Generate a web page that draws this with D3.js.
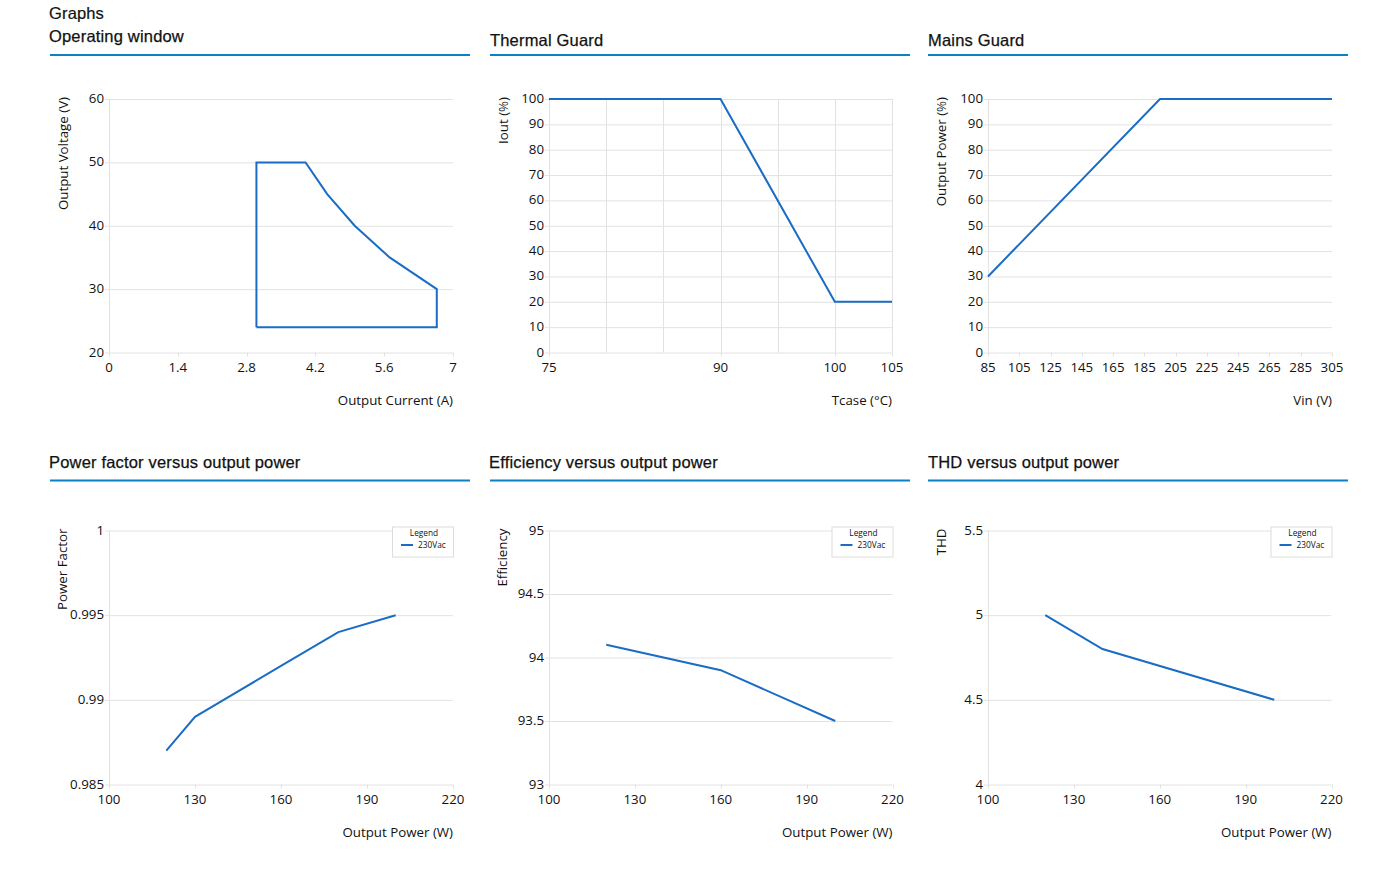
<!DOCTYPE html>
<html><head><meta charset="utf-8">
<script src="https://cdn.jsdelivr.net/npm/d3@7"></script>
<style>
body{margin:0;background:#fff;}
svg{display:block;}
</style></head>
<body>
<svg id="c" width="1400" height="876"></svg>
<script>
// ---------- DATA ----------
const owCurrent = [3, 3, 4, 4.44, 5, 5.71, 6.67, 6.67, 3];
const owVoltage = [24, 50, 50, 45, 40, 35, 30, 24, 24];
const owXTicks = [0, 1.4, 2.8, 4.2, 5.6, 7];
const owYTicks = [20, 30, 40, 50, 60];

const tgTcase = [75, 90, 100, 105];
const tgIout = [100, 100, 20, 20];
const tgXTicks = [75, 90, 100, 105];
const tgXGrid = [75, 80, 85, 90, 95, 100, 105];
const tgYTicks = [0,10,20,30,40,50,60,70,80,90,100];

const mgVin = [85, 195, 305];
const mgPower = [30, 100, 100];
const mgXTicks = [85,105,125,145,165,185,205,225,245,265,285,305];
const mgYTicks = [0,10,20,30,40,50,60,70,80,90,100];

const pfPower = [120, 130, 140, 160, 180, 200];
const pfValue = [0.987, 0.989, 0.990, 0.992, 0.994, 0.995];
const pfYTicks = [0.985, 0.99, 0.995, 1];

const efPower = [120, 160, 200];
const efValue = [94.1, 93.9, 93.5];
const efYTicks = [93, 93.5, 94, 94.5, 95];

const thPower = [120, 140, 200];
const thValue = [5.0, 4.8, 4.5];
const thYTicks = [4, 4.5, 5, 5.5];

const powerXTicks = [100, 130, 160, 190, 220];
const legendLabel = "230Vac";

// ---------- STYLE ----------
const LINE = "#1a6cc4";
const ACCENT = "#0b80c5";
const GRID = "#e2e2e2";
const TXT = "#111";
const TICKFONT = "'Open Sans', 'Noto Sans', sans-serif";
const HEADFONT = "'Liberation Sans', Arial, sans-serif";
const TFS = 13.3;
const HFS = 16.5;

const svg = d3.select("#c");

svg.append("text").attr("x", 49).attr("y", 18.5)
  .attr("font-family", HEADFONT).attr("font-size", HFS).attr("letter-spacing", 0.15)
  .attr("fill", TXT).attr("stroke", TXT).attr("stroke-width", 0.2).text("Graphs");

const heads = [
  {t:"Operating window", x:49, y:42, ly:55},
  {t:"Thermal Guard", x:490, y:46, ly:55},
  {t:"Mains Guard", x:928, y:46, ly:55},
  {t:"Power factor versus output power", x:49, y:468, ly:480.5},
  {t:"Efficiency versus output power", x:489, y:468, ly:480.5},
  {t:"THD versus output power", x:928, y:468, ly:480.5}
];
const headX0 = [50, 490, 928, 50, 490, 928];
heads.forEach((h, i) => {
  svg.append("text").attr("x", h.x).attr("y", h.y)
    .attr("font-family", HEADFONT).attr("font-size", HFS).attr("letter-spacing", 0.18)
    .attr("fill", TXT).attr("stroke", TXT).attr("stroke-width", 0.25).text(h.t);
  svg.append("rect").attr("x", headX0[i]).attr("y", h.ly - 1).attr("width", 420).attr("height", 2).attr("fill", ACCENT);
});

function fmt(v){ return String(+v.toFixed(4)); }

function panel(o){
  const g = svg.append("g");
  const x = d3.scaleLinear().domain(o.xDom).range([o.x0, o.x1]);
  const y = d3.scaleLinear().domain(o.yDom).range([o.y1, o.y0]);
  // horizontal grid
  g.append("g").selectAll("line").data(o.yTicks).join("line")
    .attr("x1", o.x0 - 4).attr("x2", o.x1)
    .attr("y1", d => y(d) + 0.5).attr("y2", d => y(d) + 0.5)
    .attr("stroke", GRID).attr("stroke-width", 1);
  // vertical grid
  if (o.xGrid) {
    g.append("g").selectAll("line").data(o.xGrid).join("line")
      .attr("x1", d => Math.round(x(d)) + 0.5).attr("x2", d => Math.round(x(d)) + 0.5)
      .attr("y1", o.y0).attr("y2", o.y1)
      .attr("stroke", GRID).attr("stroke-width", 1);
  }
  // y axis line
  g.append("line").attr("x1", o.x0 + 0.5).attr("x2", o.x0 + 0.5).attr("y1", o.y0).attr("y2", o.y1 + 4)
    .attr("stroke", GRID);
  // x tick marks
  g.append("g").selectAll("line").data(o.xTicks).join("line")
    .attr("x1", d => Math.round(x(d)) + 0.5).attr("x2", d => Math.round(x(d)) + 0.5)
    .attr("y1", o.y1).attr("y2", o.y1 + 4).attr("stroke", GRID);
  // x tick labels
  g.append("g").selectAll("text").data(o.xTicks).join("text")
    .attr("x", d => x(d)).attr("y", o.y1 + 19)
    .attr("text-anchor", "middle").attr("font-family", TICKFONT).attr("font-size", TFS).attr("fill", TXT)
    .text(fmt);
  // y tick labels
  g.append("g").selectAll("text").data(o.yTicks).join("text")
    .attr("x", o.x0 - 5).attr("y", d => y(d) + 4)
    .attr("text-anchor", "end").attr("font-family", TICKFONT).attr("font-size", TFS).attr("fill", TXT)
    .text(fmt);
  // axis titles
  g.append("text").attr("transform", `translate(${o.yLabX},${o.y0 - 2}) rotate(-90)`)
    .attr("text-anchor", "end").attr("font-family", TICKFONT).attr("font-size", TFS).attr("fill", TXT)
    .text(o.yLabel);
  g.append("text").attr("x", o.x1).attr("y", o.xLabY)
    .attr("text-anchor", "end").attr("font-family", TICKFONT).attr("font-size", TFS).attr("fill", TXT)
    .text(o.xLabel);
  // data line
  const pts = o.xs.map((v, i) => [v, o.ys[i]]);
  g.append("path").datum(pts)
    .attr("d", d3.line().x(d => x(d[0])).y(d => y(d[1])))
    .attr("fill", "none").attr("stroke", LINE).attr("stroke-width", 2).attr("stroke-linejoin", "miter");
  // legend
  if (o.legend) {
    const lx = o.x1 - 61, ly = o.y0 - 4;
    const lg = g.append("g");
    lg.append("rect").attr("x", lx + 0.5).attr("y", ly + 0.5).attr("width", 61).attr("height", 30)
      .attr("fill", "#fff").attr("stroke", "#dcdcdc");
    lg.append("text").attr("x", lx + 32).attr("y", ly + 9.5).attr("text-anchor", "middle")
      .attr("font-family", TICKFONT).attr("font-size", 8.3).attr("fill", TXT).text("Legend");
    lg.append("line").attr("x1", lx + 9).attr("x2", lx + 21).attr("y1", ly + 18.5).attr("y2", ly + 18.5)
      .attr("stroke", LINE).attr("stroke-width", 2);
    lg.append("text").attr("x", lx + 26).attr("y", ly + 21.5)
      .attr("font-family", TICKFONT).attr("font-size", 8.3).attr("fill", TXT).text(legendLabel);
  }
}

const top0 = 99, top1 = 352.5, bot0 = 530.5, bot1 = 784.5;

panel({x0:109, x1:453, y0:top0, y1:top1, xDom:[0,7], yDom:[20,60], xTicks:owXTicks, yTicks:owYTicks,
  xs:owCurrent, ys:owVoltage, yLabel:"Output Voltage (V)", yLabX:68, xLabel:"Output Current (A)", xLabY:405});
panel({x0:549, x1:892, y0:top0, y1:top1, xDom:[75,105], yDom:[0,100], xTicks:tgXTicks, xGrid:tgXGrid, yTicks:tgYTicks,
  xs:tgTcase, ys:tgIout, yLabel:"Iout (%)", yLabX:508, xLabel:"Tcase (°C)", xLabY:405});
panel({x0:988, x1:1332, y0:top0, y1:top1, xDom:[85,305], yDom:[0,100], xTicks:mgXTicks, yTicks:mgYTicks,
  xs:mgVin, ys:mgPower, yLabel:"Output Power (%)", yLabX:946, xLabel:"Vin (V)", xLabY:405});
panel({x0:109, x1:453, y0:bot0, y1:bot1, xDom:[100,220], yDom:[0.985,1], xTicks:powerXTicks, yTicks:pfYTicks,
  xs:pfPower, ys:pfValue, yLabel:"Power Factor", yLabX:67, xLabel:"Output Power (W)", xLabY:836.5, legend:true});
panel({x0:549, x1:892.5, y0:bot0, y1:bot1, xDom:[100,220], yDom:[93,95], xTicks:powerXTicks, yTicks:efYTicks,
  xs:efPower, ys:efValue, yLabel:"Efficiency", yLabX:507, xLabel:"Output Power (W)", xLabY:836.5, legend:true});
panel({x0:988, x1:1331.5, y0:bot0, y1:bot1, xDom:[100,220], yDom:[4,5.5], xTicks:powerXTicks, yTicks:thYTicks,
  xs:thPower, ys:thValue, yLabel:"THD", yLabX:946, xLabel:"Output Power (W)", xLabY:836.5, legend:true});
</script>
</body></html>
